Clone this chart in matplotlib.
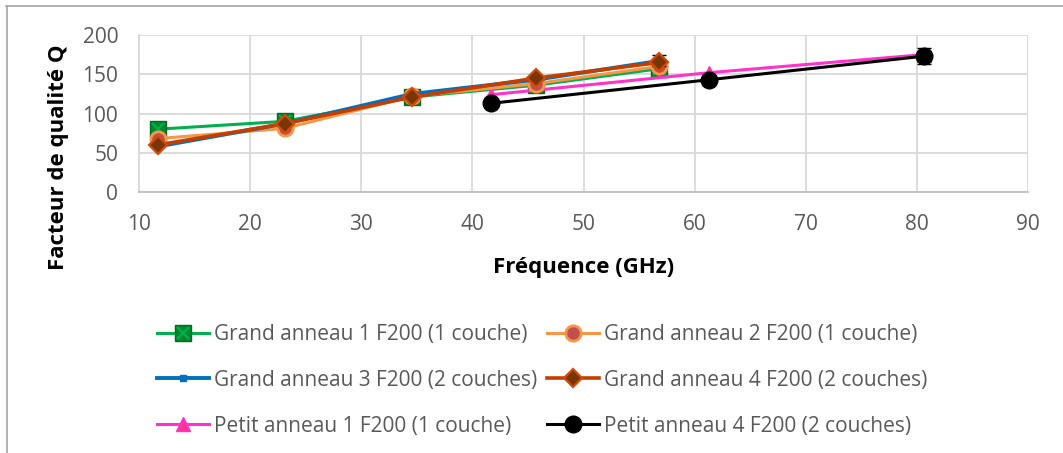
import matplotlib
matplotlib.use("Agg")
import matplotlib.pyplot as plt
from matplotlib.lines import Line2D
from matplotlib.legend_handler import HandlerTuple

plt.rcParams['font.family'] = ['Open Sans', 'DejaVu Sans']

# Data
x_grand = [11.7, 23.1, 34.6, 45.7, 56.8]
g1 = [80, 90, 121, 136, 157]
g2 = [68, 81, 122, 138, 160]
g3 = [58, 87, 125, 143, 167]
g4 = [60, 87, 121, 145, 165]
g3_err = [0, 0, 0, 0, 7]

x_petit = [41.7, 61.3, 80.6]
p1 = [124, 152, 175]
p4 = [113, 143, 173]
p4_err = [0, 0, 10]

labels = ["Grand anneau 1 F200 (1 couche)", "Grand anneau 2 F200 (1 couche)",
          "Grand anneau 3 F200 (2 couches)", "Grand anneau 4 F200 (2 couches)",
          "Petit anneau 1 F200 (1 couche)", "Petit anneau 4 F200 (2 couches)"]

xticks = [10, 20, 30, 40, 50, 60, 70, 80, 90]
yticks = [0, 50, 100, 150, 200]

W, H = 1063, 453
fig = plt.figure(figsize=(W/100, H/100), dpi=100)
ax = fig.add_axes([139/W, 1-192/H, (1028-139)/W, (192-35)/H])

lw = 2.2
# Grand 1 : green with square+X
l1, = ax.plot(x_grand, g1, color='#00B050', lw=lw, marker='s', ms=11,
              mfc='#008A2E', mec='#006B23', zorder=3)
l1x, = ax.plot(x_grand, g1, ls='none', marker='x', ms=9, mew=1.6,
               color='#00B050', zorder=3.1)
# Grand 2 : orange with circle
l2, = ax.plot(x_grand, g2, color='#F79646', lw=lw, marker='o', ms=11,
              mfc='#C0504D', mec='#F79646', mew=2, zorder=4)
# Grand 3 : blue with small square
ax.errorbar(x_grand, g3, yerr=g3_err, fmt='none', ecolor='#000000',
            elinewidth=1, capsize=5, zorder=4.5)
l3, = ax.plot(x_grand, g3, color='#0070C0', lw=lw+0.6, marker='s', ms=4,
              mfc='#0070C0', mec='#0070C0', zorder=5)
# Grand 4 : red-orange with diamond
l4, = ax.plot(x_grand, g4, color='#C43E00', lw=lw+0.4, marker='D', ms=9,
              mfc='#7A3500', mec='#D24A0E', mew=1.6, zorder=6)
# Petit 1 : pink with triangle
l5, = ax.plot(x_petit, p1, color='#FF33CC', lw=lw, marker='^', ms=10,
              mfc='#FF3399', mec='#FF33CC', zorder=3)
# Petit 4 : black circle
ax.errorbar(x_petit, p4, yerr=p4_err, fmt='none', ecolor='#000000',
            elinewidth=1, capsize=5, zorder=3.5)
l6, = ax.plot(x_petit, p4, color='#000000', lw=lw, marker='o', ms=12,
              mfc='#000000', mec='#000000', zorder=4)

ax.set_xlim(10, 90)
ax.set_ylim(0, 200)
ax.set_xticks(xticks)
ax.set_yticks(yticks)
ax.grid(True, color='#D9D9D9', lw=1.3)
ax.set_axisbelow(True)
for s in ['top', 'right']:
    ax.spines[s].set_visible(False)
for s in ['left', 'bottom']:
    ax.spines[s].set_color('#D9D9D9')
    ax.spines[s].set_linewidth(1.3)
ax.spines['bottom'].set_color('#BFBFBF')
ax.tick_params(axis='both', length=0, labelsize=15, colors='#595959')
ax.tick_params(axis='x', pad=16)
ax.tick_params(axis='y', pad=15)

ax.set_xlabel("Fréquence (GHz)", fontsize=16, fontweight='bold', color='black', labelpad=16)
ax.set_ylabel("Facteur de qualité Q", fontsize=16, fontweight='bold', color='black')
ax.yaxis.set_label_coords(-0.0787, 0.223)

# legend in row-wise order (matplotlib fills columns first)
handles_all = [(l1, l1x), l2, l3, l4, l5, l6]
order = [0, 2, 4, 1, 3, 5]
leg = fig.legend([handles_all[i] for i in order], [labels[i] for i in order],
                 loc='upper left', bbox_to_anchor=(157/W, 1-324/H),
                 ncol=2, frameon=False, fontsize=15, handlelength=2.5,
                 handletextpad=0.25, columnspacing=0.45, labelspacing=1.19,
                 borderpad=0, borderaxespad=0,
                 handler_map={tuple: HandlerTuple(ndivide=1, pad=0)})
for t in leg.get_texts():
    t.set_color('#595959')

# outer frame (top & left visible)
fig.add_artist(Line2D([6/W, 1], [1-5.5/H, 1-5.5/H], transform=fig.transFigure,
                      color='#A6A6A6', lw=1.2))
fig.add_artist(Line2D([6.5/W, 6.5/W], [0, 1-5.5/H], transform=fig.transFigure,
                      color='#A6A6A6', lw=1.2))

fig.savefig("out.png", dpi=100)
